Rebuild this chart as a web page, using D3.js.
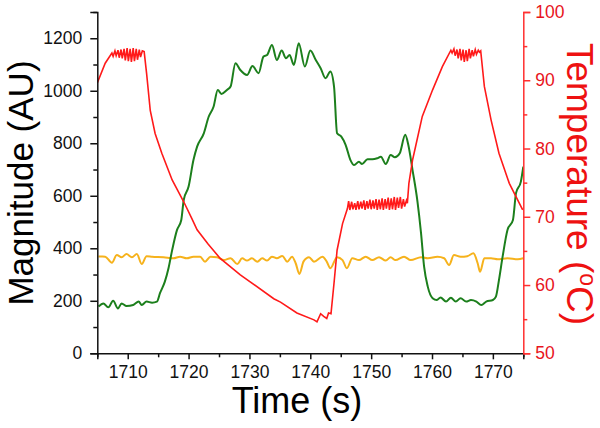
<!DOCTYPE html>
<html>
<head>
<meta charset="utf-8">
<script src="https://cdn.jsdelivr.net/npm/d3@7"></script>
<style>
  body { margin: 0; background: #fff; }
  svg { display: block; font-family: "Liberation Sans", Arial, sans-serif; }
</style>
</head>
<body>
<svg id="chart" width="600" height="428"></svg>
<script>
'use strict';

// time (s) and temperature (degC), right axis
const redTime = [1705.0, 1706.3, 1707.4, 1707.6, 1707.9, 1708.1, 1708.4, 1708.6, 1708.9, 1709.1, 1709.4, 1709.6, 1709.9, 1710.1, 1710.4, 1710.6, 1710.9, 1711.1, 1711.4, 1711.6, 1711.9, 1712.1, 1712.4, 1712.7,
  1713.1, 1713.7, 1714.5, 1715.6, 1717.3, 1719.2, 1720.5, 1721.4, 1723.2, 1725.2, 1728.5, 1729.6, 1734.0, 1735.1, 1737.8, 1740.6, 1741.1, 1741.7, 1742.2, 1742.7, 1743.0, 1743.4,
  1743.9, 1744.4, 1745.3, 1746.1,
  1746.3, 1746.5, 1746.8, 1747.0, 1747.3, 1747.5, 1747.8, 1748.0, 1748.3, 1748.5, 1748.8, 1749.0, 1749.3, 1749.5, 1749.8, 1750.0, 1750.3, 1750.5, 1750.8, 1751.0,
  1751.3, 1751.5, 1751.8, 1752.0, 1752.3, 1752.5, 1752.8, 1753.0, 1753.3, 1753.5, 1753.8, 1754.0, 1754.3, 1754.5, 1754.8, 1755.0, 1755.3, 1755.5, 1755.8, 1755.95,
  1756.2, 1756.8, 1757.3, 1758.4, 1760.1, 1761.7, 1763.1,
  1763.3, 1763.6, 1763.8, 1764.1, 1764.3, 1764.6, 1764.8, 1765.1, 1765.3, 1765.6, 1765.8, 1766.1, 1766.3, 1766.6, 1766.8, 1767.1, 1767.3, 1767.6, 1767.8, 1768.0,
  1768.6, 1769.7, 1771.0, 1772.7, 1774.9];
const redTemp = [89.6, 92.5, 94.0, 93.5, 94.3, 93.6, 94.4, 93.3, 94.5, 93.2, 94.6, 92.9, 94.7, 92.8, 94.6, 92.7, 94.7, 92.8, 94.6, 93.0, 94.5, 93.4, 94.3, 94.2,
  91.0, 85.6, 82.2, 79.3, 75.4, 72.2, 69.8, 68.1, 66.0, 63.9, 61.5, 60.8, 58.0, 57.5, 55.9, 54.9, 54.6, 55.8, 55.4, 55.1, 55.9, 55.8,
  60.3, 65.1, 69.0, 71.2,
  72.3, 71.0, 72.2, 71.1, 72.0, 71.0, 72.3, 71.1, 72.2, 71.2, 72.4, 71.0, 72.3, 71.2, 72.5, 71.1, 72.4, 71.2, 72.6, 71.0,
  72.5, 71.1, 72.7, 71.0, 72.6, 71.2, 72.8, 71.0, 72.7, 71.1, 72.9, 71.0, 72.8, 71.3, 72.9, 71.2, 72.6, 71.5, 72.4, 72.0,
  74.9, 78.3, 80.3, 84.7, 88.6, 92.0, 94.4,
  94.0, 94.6, 93.6, 94.5, 93.2, 94.6, 92.9, 94.5, 92.7, 94.4, 92.8, 94.6, 93.2, 94.4, 93.5, 94.5, 93.8, 94.4, 94.1, 94.3,
  89.1, 84.2, 79.3, 74.9, 71.0];

// magnitude (AU), left axis
const greenTime = [1705.2, 1706.0, 1706.8, 1707.6, 1708.4, 1709.0, 1709.8, 1710.9, 1711.8, 1712.3, 1713.1, 1714.0, 1714.8, 1715.3, 1716.1, 1716.7, 1717.3, 1718.1, 1718.8, 1719.2,
  1720.0, 1720.8, 1721.4, 1722.5, 1723.3, 1724.1, 1724.8, 1725.4, 1726.3, 1726.9, 1727.7, 1728.5, 1729.6, 1730.5, 1731.5, 1732.3, 1732.9, 1733.7, 1734.5, 1735.3,
  1736.0, 1736.6, 1737.3, 1738.1, 1739.1, 1740.0, 1740.9, 1741.7, 1742.5, 1743.3, 1743.9, 1744.4, 1745.1, 1745.8, 1746.6, 1747.2, 1748.0, 1748.5, 1749.4, 1750.2,
  1751.0, 1751.6, 1752.4, 1753.2, 1753.9, 1754.7, 1755.6, 1756.1, 1756.8, 1757.6, 1758.2, 1758.7, 1759.3, 1760.1, 1760.8, 1761.4, 1762.3, 1763.1, 1763.9, 1764.7,
  1765.6, 1766.4, 1767.3, 1768.1, 1768.9, 1770.0, 1770.5, 1771.0, 1771.6, 1772.4, 1773.3, 1773.8, 1774.6, 1775.0];
const greenMag = [178, 190, 175, 200, 171, 190, 180, 184, 197, 184, 197, 193, 197, 229, 273, 324, 393, 470, 508, 584,
  635, 736, 787, 838, 901, 939, 1003, 988, 1003, 1016, 1105, 1079, 1060, 1094, 1067, 1130, 1136, 1174, 1117, 1153,
  1124, 1136, 1098, 1181, 1092, 1153, 1117, 1086, 1048, 1073, 1016, 838, 825, 794, 736, 717, 730, 721, 739, 739,
  743, 749, 721, 755, 747, 762, 832, 794, 698, 580, 457, 330, 254, 210, 203, 213, 197, 212, 197, 210,
  197, 203, 197, 184, 197, 203, 216, 279, 368, 470, 508, 610, 654, 711];

const orangeTime = [1705.2, 1705.4, 1706.3, 1707.4, 1708.2, 1709.0, 1709.8, 1710.7, 1711.5, 1712.3, 1713.1, 1714.0, 1715.9, 1717.5, 1718.6, 1719.7, 1720.8, 1721.9, 1722.7, 1723.6,
  1724.7, 1725.8, 1726.9, 1728.0, 1728.8, 1729.6, 1730.4, 1731.3, 1732.1, 1732.9, 1733.7, 1734.5, 1735.4, 1736.2, 1737.0, 1737.6, 1738.2, 1738.9, 1739.8, 1740.6,
  1742.0, 1742.7, 1743.3, 1744.4, 1745.3, 1746.0, 1746.9, 1748.0, 1749.1, 1750.2, 1751.3, 1752.4, 1753.2, 1754.0, 1755.4, 1756.5, 1758.2, 1759.3, 1760.9, 1762.0,
  1762.8, 1763.6, 1764.7, 1765.8, 1766.8, 1767.5, 1767.9, 1768.6, 1769.7, 1770.8, 1772.4, 1774.1, 1775.0];
const orangeMag = [370, 369, 368, 345, 374, 366, 378, 366, 378, 340, 370, 368, 366, 362, 368, 362, 368, 368, 349, 368,
  366, 355, 362, 340, 362, 353, 362, 349, 362, 353, 368, 362, 371, 349, 368, 343, 302, 350, 366, 349,
  368, 349, 324, 366, 355, 324, 362, 355, 368, 355, 366, 353, 366, 355, 368, 355, 366, 362, 368, 362,
  336, 374, 368, 370, 381, 343, 311, 362, 362, 358, 362, 358, 362];

const magTicks = [0, 200, 400, 600, 800, 1000, 1200];
const magMinor = [100, 300, 500, 700, 900, 1100, 1300];
const timeTicks = [1710, 1720, 1730, 1740, 1750, 1760, 1770];
const timeMinor = [1705, 1715, 1725, 1735, 1745, 1755, 1765, 1775];
const tempTicks = [50, 60, 70, 80, 90, 100];
const tempMinor = [55, 65, 75, 85, 95];

const RED = '#ff1a1a';
const GREEN = '#1c7f1c';
const ORANGE = '#f6b21c';

const svg = d3.select('#chart');

const x = d3.scaleLinear().domain([1705, 1775]).range([97.3, 523.3]);
const yL = d3.scaleLinear().domain([0, 1300]).range([353.3, 12]);
const yR = d3.scaleLinear().domain([50, 100]).range([353.3, 12]);

svg.append('clipPath').attr('id', 'plot')
  .append('rect')
  .attr('x', x(1705)).attr('y', yL(1300))
  .attr('width', x(1775) - x(1705)).attr('height', yL(0) - yL(1300));

const plot = svg.append('g').attr('clip-path', 'url(#plot)');

function zip(ts, vs) {
  return ts.map((t, i) => [t, vs[i]]);
}

const smooth = d3.line().curve(d3.curveMonotoneX).x(d => x(d[0])).y(d => yL(d[1]));
const jagged = d3.line().x(d => x(d[0])).y(d => yR(d[1]));

plot.append('path')
  .datum(zip(orangeTime, orangeMag))
  .attr('d', smooth)
  .attr('fill', 'none').attr('stroke', ORANGE).attr('stroke-width', 2);

plot.append('path')
  .datum(zip(greenTime, greenMag))
  .attr('d', smooth)
  .attr('fill', 'none').attr('stroke', GREEN).attr('stroke-width', 2);

plot.append('path')
  .datum(zip(redTime, redTemp))
  .attr('d', jagged)
  .attr('fill', 'none').attr('stroke', RED).attr('stroke-width', 1.6);

// axes
function styleAxis(g, color) {
  g.select('.domain').attr('stroke', color).attr('stroke-width', 1.5);
  g.selectAll('.tick line').attr('stroke', color).attr('stroke-width', 1.5);
  g.selectAll('.tick text').attr('fill', color).attr('font-size', 17.5)
    .attr('font-family', '"Liberation Sans", Arial, sans-serif');
}

const left = svg.append('g').attr('transform', `translate(${x(1705)},0)`);
left.call(d3.axisLeft(yL).tickValues(magTicks).tickSize(7).tickPadding(8).tickFormat(d3.format('d')));
left.append('g').call(d3.axisLeft(yL).tickValues(magMinor).tickSize(4).tickFormat(''))
  .select('.domain').remove();
styleAxis(left, '#111');

const bottom = svg.append('g').attr('transform', `translate(0,${yL(0)})`);
bottom.call(d3.axisBottom(x).tickValues(timeTicks).tickSize(6).tickPadding(6).tickFormat(d3.format('d')));
bottom.append('g').call(d3.axisBottom(x).tickValues(timeMinor).tickSize(4).tickFormat(''))
  .select('.domain').remove();
styleAxis(bottom, '#111');

const right = svg.append('g').attr('transform', `translate(${x(1775)},0)`);
right.call(d3.axisRight(yR).tickValues(tempTicks).tickSize(7).tickPadding(5).tickFormat(d3.format('d')));
right.append('g').call(d3.axisRight(yR).tickValues(tempMinor).tickSize(4).tickFormat(''))
  .select('.domain').remove();
styleAxis(right, '#ff3030');
right.selectAll('.tick text').attr('fill', '#e8141c');

// axis titles
svg.append('text')
  .attr('transform', 'translate(33,183) rotate(-90)')
  .attr('text-anchor', 'middle')
  .attr('font-size', 35)
  .attr('fill', '#000')
  .text('Magnitude (AU)');

svg.append('text')
  .attr('x', 297).attr('y', 413)
  .attr('text-anchor', 'middle')
  .attr('font-size', 36)
  .attr('fill', '#000')
  .text('Time (s)');

const tTitle = svg.append('text')
  .attr('transform', 'translate(567,184) rotate(90)')
  .attr('text-anchor', 'middle')
  .attr('font-size', 37)
  .attr('fill', '#ee1111');
tTitle.append('tspan').text('Temperature (');
tTitle.append('tspan').attr('font-size', 23).attr('dy', -13).text('o');
tTitle.append('tspan').attr('dy', 13).text('C)');
</script>
</body>
</html>
